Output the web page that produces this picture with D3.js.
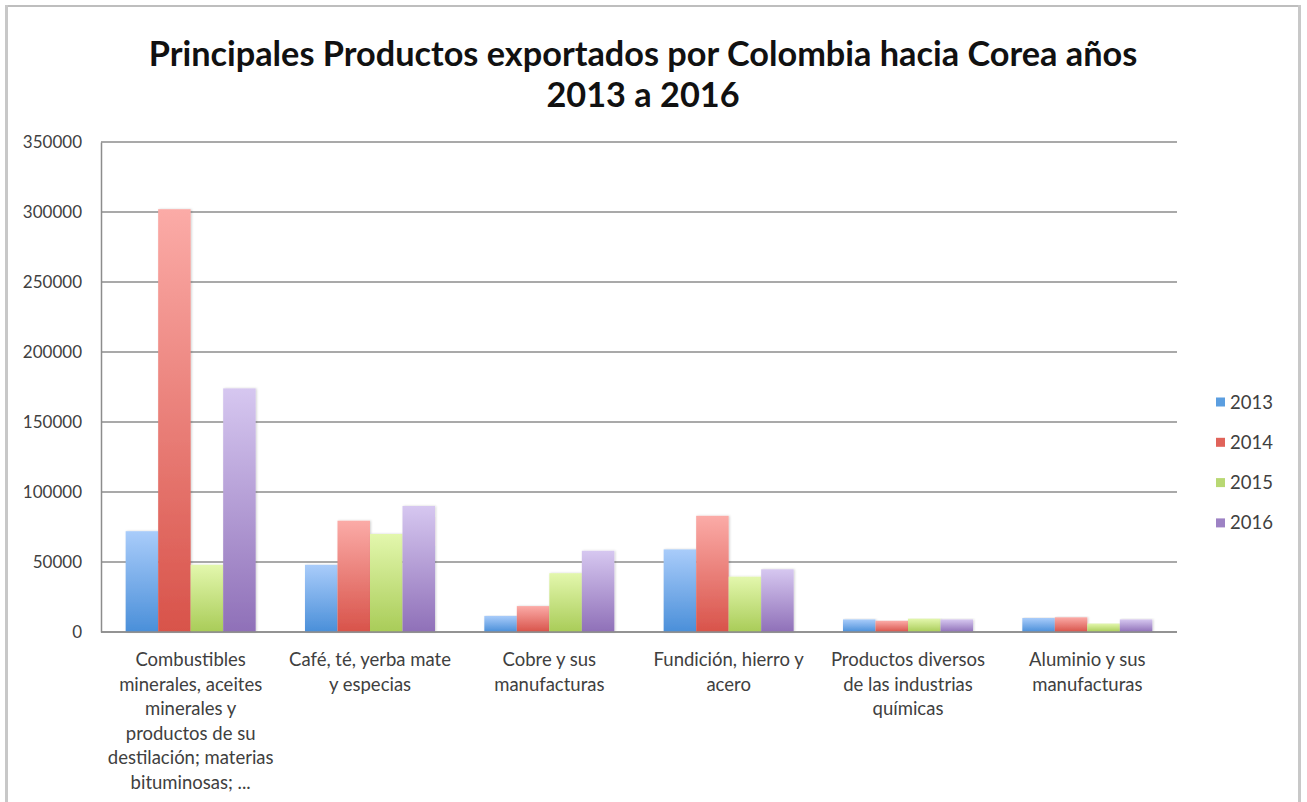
<!DOCTYPE html>
<html>
<head>
<meta charset="utf-8">
<script src="https://cdn.jsdelivr.net/npm/d3@7"></script>
<style>
  html, body { margin: 0; padding: 0; background: #fff; }
  svg { display: block; }
</style>
</head>
<body>
<svg id="chart" width="1307" height="802"></svg>
<script>
// Export values (thousands USD) by product group and year
const categories = [
  ["Combustibles", "minerales, aceites", "minerales y", "productos de su", "destilación; materias", "bituminosas; ..."],
  ["Café, té, yerba mate", "y especias"],
  ["Cobre y sus", "manufacturas"],
  ["Fundición, hierro y", "acero"],
  ["Productos diversos", "de las industrias", "químicas"],
  ["Aluminio y sus", "manufacturas"]
];
const years = ["2013", "2014", "2015", "2016"];
const values2013 = [72000, 48000, 11500, 59000, 9000, 10000];
const values2014 = [302000, 79500, 18500, 83000, 8000, 10500];
const values2015 = [48000, 70000, 42000, 39500, 9500, 6000];
const values2016 = [174000, 90000, 58000, 44800, 9000, 9000];
const yTicks = [0, 50000, 100000, 150000, 200000, 250000, 300000, 350000];
const titleLines = ["Principales Productos exportados por Colombia hacia Corea años", "2013 a 2016"];

const series = [values2013, values2014, values2015, values2016];
const colors = [
  { top: "#a9ccfa", bottom: "#4a8fd9", key: "#5b9ee0" },
  { top: "#fbaba7", bottom: "#d8534a", key: "#e0635a" },
  { top: "#e3f7ad", bottom: "#a9cc58", key: "#b8d873" },
  { top: "#d6c7f0", bottom: "#8f70b8", key: "#9d82c4" }
];

const FONT = "Lato, 'Open Sans', sans-serif";
const svg = d3.select("#chart");
const W = 1307, H = 802;
const plot = { left: 101, right: 1177, top: 142, bottom: 632 };

// outer chart frame
svg.append("line").attr("x1", 6).attr("x2", 1299).attr("y1", 6).attr("y2", 6)
  .attr("stroke", "#a8a8a8").attr("stroke-width", 1.5);
svg.append("line").attr("x1", 6.5).attr("x2", 6.5).attr("y1", 5).attr("y2", H)
  .attr("stroke", "#c8c8c8").attr("stroke-width", 3);
svg.append("line").attr("x1", 1299.5).attr("x2", 1299.5).attr("y1", 5).attr("y2", H)
  .attr("stroke", "#c8c8c8").attr("stroke-width", 3);

const defs = svg.append("defs");
colors.forEach((c, i) => {
  const g = defs.append("linearGradient").attr("id", "grad" + i)
    .attr("x1", 0).attr("y1", 0).attr("x2", 0).attr("y2", 1);
  g.append("stop").attr("offset", "0%").attr("stop-color", c.top);
  g.append("stop").attr("offset", "100%").attr("stop-color", c.bottom);
});
const shadow = defs.append("filter").attr("id", "shadow")
  .attr("x", "-20%").attr("y", "-5%").attr("width", "140%").attr("height", "110%");
shadow.append("feDropShadow").attr("dx", 1).attr("dy", 0).attr("stdDeviation", 1.2)
  .attr("flood-color", "#000").attr("flood-opacity", 0.18);

// title
const title = svg.append("g").attr("font-family", FONT)
  .attr("font-weight", 700).attr("fill", "#111").attr("text-anchor", "middle");
const t1 = title.append("text").attr("x", 643).attr("y", 66).attr("font-size", 30).text(titleLines[0]);
const targetW = 989;
const fs = 30 * targetW / t1.node().getComputedTextLength();
t1.attr("font-size", fs);
title.append("text").attr("x", 643).attr("y", 107).attr("font-size", fs).text(titleLines[1]);

// scales
const x0 = d3.scaleBand().domain(d3.range(categories.length))
  .range([plot.left, plot.right]).paddingInner(0.275).paddingOuter(0.1375);
const x1 = d3.scaleBand().domain(d3.range(years.length)).range([0, x0.bandwidth()]);
const y = d3.scaleLinear().domain([0, 350000]).range([plot.bottom, plot.top]);

// gridlines
svg.append("g").selectAll("line").data(yTicks).join("line")
  .attr("x1", plot.left).attr("x2", plot.right)
  .attr("y1", d => y(d)).attr("y2", d => y(d))
  .attr("stroke", "#8c8c8c").attr("stroke-width", 1.5);

// y axis
const yAxis = svg.append("g").attr("transform", `translate(${plot.left},0)`)
  .call(d3.axisLeft(y).tickValues(yTicks).tickSize(0).tickPadding(19).tickFormat(d3.format("d")));
yAxis.select(".domain").attr("stroke", "#8c8c8c").attr("stroke-width", 1.5);
yAxis.selectAll("text").attr("font-family", FONT)
  .attr("font-size", 17).attr("fill", "#404040");

// bars
const groups = svg.append("g").selectAll("g").data(categories.map((c, i) => i)).join("g")
  .attr("transform", i => `translate(${x0(i)},0)`);
groups.selectAll("rect").data(i => series.map((s, k) => ({ k, v: s[i] }))).join("rect")
  .attr("x", d => x1(d.k)).attr("width", x1.bandwidth())
  .attr("y", d => y(d.v)).attr("height", d => y(0) - y(d.v))
  .attr("fill", d => `url(#grad${d.k})`).attr("filter", "url(#shadow)");

// baseline
svg.append("line").attr("x1", plot.left).attr("x2", plot.right)
  .attr("y1", y(0)).attr("y2", y(0)).attr("stroke", "#8c8c8c").attr("stroke-width", 1.5);

// category labels
const labels = svg.append("g").attr("font-family", FONT)
  .attr("font-size", 18.5).attr("fill", "#404040").attr("text-anchor", "middle");
categories.forEach((lines, i) => {
  const cx = x0(i) + x0.bandwidth() / 2;
  const t = labels.append("text").attr("x", cx).attr("y", 666);
  lines.forEach((ln, j) => {
    t.append("tspan").attr("x", cx).attr("dy", j === 0 ? 0 : 24.5).text(ln);
  });
});

// legend
const legend = svg.append("g").attr("font-family", FONT)
  .attr("font-size", 18.5).attr("fill", "#404040");
years.forEach((yr, k) => {
  const cy = 402 + k * 40.3;
  legend.append("rect").attr("x", 1216).attr("y", cy - 4.5).attr("width", 9).attr("height", 9)
    .attr("fill", colors[k].key);
  legend.append("text").attr("x", 1230).attr("y", cy + 6.5).text(yr);
});
</script>
</body>
</html>
